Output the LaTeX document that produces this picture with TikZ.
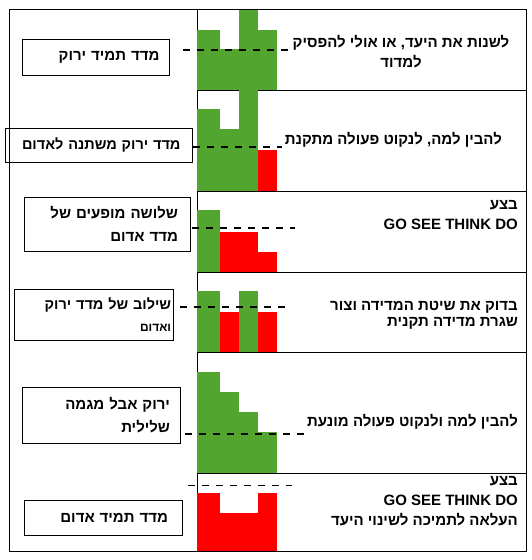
\documentclass[tikz,border=0pt]{standalone}
\usepackage{fontspec}
\setmainfont{Liberation Sans}
\newfontfamily\hebfont[Script=Hebrew]{Liberation Sans Bold}
\TeXXeTstate=1
\definecolor{grn}{RGB}{82,166,48}
\definecolor{rd}{RGB}{255,0,0}

\begin{document}
\begin{tikzpicture}[x=1pt, y=-1pt]

\tikzstyle{lab}=[draw, line width=1pt, inner xsep=0pt, inner ysep=0pt, align=right, font=\hebfont\fontsize{15}{23}\selectfont]
\tikzstyle{txt}=[inner sep=0pt, align=right, font=\bfseries\fontsize{15}{20}\selectfont]
\tikzstyle{target}=[line width=1.5pt, dash pattern=on 7pt off 7pt]

\useasboundingbox (0,0) rectangle (532,560);

\draw[line width=1pt] (9,9) rectangle (526,551);
\draw[line width=1pt] (197,9) -- (197,551);
\foreach \y in {90,191,272,352,473}
  \draw[line width=1pt] (197,\y) -- (526,\y);

% bars: bottom / colour and top of each bar
\foreach \bot/\data in {90/{grn/30,grn/49,grn/10,grn/30},
                        191/{grn/109,grn/129,grn/89,rd/150},
                        272/{grn/210,rd/232,rd/232,rd/252},
                        352/{grn/291,rd/312,grn/291,rd/312},
                        473/{grn/372,grn/392,grn/412,grn/432},
                        551/{rd/493,rd/513,rd/513,rd/493}}
{
  \foreach \c/\t [count=\i] in \data {
    \pgfmathsetmacro\xa{{197,220,239,258,277}[\i-1]}
    \pgfmathsetmacro\xb{{197,220,239,258,277}[\i]}
    \fill[\c] (\xa,\t) rectangle (\xb,\bot);
  }
}

\draw [target] (183,50) -- (289,50);
\draw [target] (193,147) -- (282,147);
\draw [target] (192,228) -- (295,228);
\draw [target] (180,307) -- (292,307);
\draw [target] (185,434) -- (305,434);
\draw [target] (188,485.5) -- (292,485.5);

\node (lab1) [lab, minimum width=147pt, minimum height=36pt, text width=127pt] at (96,57)
  {\beginR מדד תמיד ירוק\endR};
\node (lab2) [lab, minimum width=187pt, minimum height=34pt, text width=164pt,
              font=\hebfont\fontsize{14.5}{22}\selectfont] at (98.5,145)
  {\beginR מדד ירוק משתנה לאדום\endR};
\node (lab3) [lab, minimum width=166pt, minimum height=54pt, text width=142pt] at (107,224)
  {\beginR שלושה מופעים של\endR\\\beginR מדד אדום\endR};
\node (lab4) [lab, minimum width=159pt, minimum height=51pt, text width=155pt,
              font=\hebfont\fontsize{14.5}{22}\selectfont] at (93.6,314.5)
  {\beginR שילוב של מדד ירוק\endR\\{\fontsize{12}{14}\selectfont\beginR ואדום\endR}};
\node (lab5) [lab, minimum width=158pt, minimum height=56pt, text width=138pt] at (101,415)
  {\beginR ירוק אבל מגמה\endR\\\beginR שלילית\endR};
\node (lab6) [lab, minimum width=158pt, minimum height=35pt, text width=130pt] at (103,517.5)
  {\beginR מדד תמיד אדום\endR};

\node (txt1) [txt, align=center] at (401,52)
  {\hebfont\beginR לשנות את היעד, או אולי להפסיק\endR\\\hebfont\beginR למדוד\endR};
\node (txt2) [txt, anchor=east] at (502,140)
  {\hebfont\beginR להבין למה, לנקוט פעולה מתקנת\endR};
\node (txt3) [txt, anchor=east] at (518,215)
  {\hebfont\beginR בצע\endR\\GO SEE THINK DO};
\node (txt4) [txt, anchor=east, font=\bfseries\fontsize{15}{16}\selectfont] at (518,315)
  {\hebfont\beginR בדוק את שיטת המדידה וצור\endR\\\hebfont\beginR שגרת מדידה תקנית\endR};
\node (txt5) [txt, anchor=east] at (518,422)
  {\hebfont\beginR להבין למה ולנקוט פעולה מונעת\endR};
\node (txt6) [txt, anchor=east] at (518,501)
  {\hebfont\beginR בצע\endR\\GO SEE THINK DO\\\hebfont\beginR העלאה לתמיכה לשינוי היעד\endR};

\end{tikzpicture}
\end{document}
